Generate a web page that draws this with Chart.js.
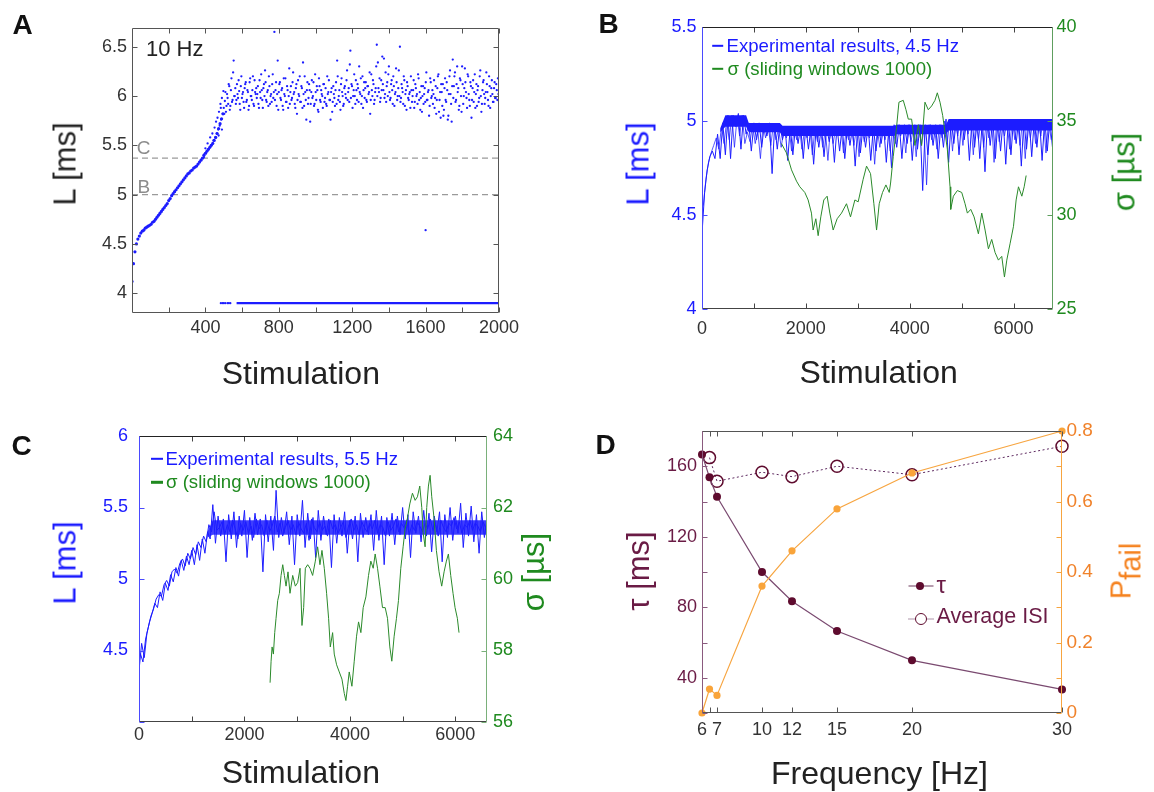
<!DOCTYPE html>
<html><head><meta charset="utf-8"><title>Latency figure</title>
<script src="https://cdn.jsdelivr.net/npm/chart.js@4.4.1/dist/chart.umd.min.js"></script>
<style>
html,body{margin:0;padding:0;background:#fff;}
#page{position:relative;width:1154px;height:792px;overflow:hidden;background:#fff;font-family:"Liberation Sans",Arial,Helvetica,sans-serif;}
#page canvas{position:absolute;left:0;top:0;}
.tx{position:absolute;white-space:nowrap;line-height:1;transform:translate(-50%,-50%);z-index:5;}
.rot{transform:translate(-50%,-50%) rotate(-90deg);}
.lt{position:absolute;white-space:nowrap;line-height:1;transform:translate(0,-50%);z-index:5;}
.mk{position:absolute;z-index:5;transform:translate(-50%,-50%);box-sizing:border-box;}
.letter{font-weight:bold;font-size:28px;color:#111;}
.ttl{font-size:31px;color:#222;}
.xt{font-size:32px;color:#222;}
.lg{font-size:18.6px;}
</style></head>
<body><div id="page">
<canvas id="chartA" width="1154" height="792"></canvas>
<canvas id="chartB" width="1154" height="792"></canvas>
<canvas id="chartC" width="1154" height="792"></canvas>
<canvas id="chartD" width="1154" height="792"></canvas>

<div class="tx letter" style="left:22.5px;top:25px">A</div>
<div class="tx letter" style="left:608.5px;top:23.5px">B</div>
<div class="tx letter" style="left:21.7px;top:445.8px">C</div>
<div class="tx letter" style="left:605.5px;top:444.5px">D</div>

<!-- Panel A texts -->
<div class="lt" style="left:146px;top:49.3px;font-size:22px;color:#222">10 Hz</div>
<div class="tx" style="left:143.7px;top:147.3px;font-size:19px;color:#8c8c8c">C</div>
<div class="tx" style="left:143.8px;top:186.3px;font-size:19px;color:#8c8c8c">B</div>
<div class="tx rot ttl" style="left:64.5px;top:164.2px">L [ms]</div>
<div class="tx xt" style="left:300.8px;top:372.8px">Stimulation</div>

<!-- Panel B texts -->
<div class="tx rot ttl" style="left:637.6px;top:164.2px;color:#1a1aff">L [ms]</div>
<div class="tx rot ttl" style="left:1124px;top:172px;color:#1f8a1f">σ [µs]</div>
<div class="tx xt" style="left:878.7px;top:372px">Stimulation</div>
<div class="mk" style="left:717.5px;top:45.7px;width:11.6px;height:2.4px;background:#1a1aff"></div>
<div class="lt lg" style="left:726.5px;top:45.7px;color:#1a1aff">Experimental results, 4.5 Hz</div>
<div class="mk" style="left:717.5px;top:69px;width:11.6px;height:2.4px;background:#1f8a1f"></div>
<div class="lt lg" style="left:727.5px;top:69px;color:#1f8a1f">σ (sliding windows 1000)</div>

<!-- Panel C texts -->
<div class="tx rot ttl" style="left:64.5px;top:563.3px;color:#1a1aff">L [ms]</div>
<div class="tx rot ttl" style="left:533px;top:571.7px;color:#1f8a1f">σ [µs]</div>
<div class="tx xt" style="left:300.8px;top:771.7px">Stimulation</div>
<div class="mk" style="left:156.5px;top:459px;width:12px;height:2.4px;background:#1a1aff"></div>
<div class="lt lg" style="left:165.5px;top:459px;color:#1a1aff">Experimental results, 5.5 Hz</div>
<div class="mk" style="left:156.5px;top:482.3px;width:12px;height:2.4px;background:#1f8a1f"></div>
<div class="lt lg" style="left:166px;top:482.3px;color:#1f8a1f">σ (sliding windows 1000)</div>

<!-- Panel D texts -->
<div class="tx rot ttl" style="left:637.7px;top:571.2px;color:#6a1b45">τ [ms]</div>
<div class="tx rot ttl" style="left:1121px;top:571px;color:#f5821f;font-size:29px">P<span style="position:relative;top:0.36em">fail</span></div>
<div class="tx xt" style="left:879.5px;top:773px">Frequency [Hz]</div>
<div class="mk" style="left:920.8px;top:586.3px;width:25px;height:0;border-top:1.2px solid #6e3a5e"></div>
<div class="mk" style="left:920px;top:586.3px;width:8px;height:8px;border-radius:50%;background:#5e0b2e"></div>
<div class="lt" style="left:936.5px;top:584.5px;font-size:24px;color:#6a1b45">τ</div>
<div class="mk" style="left:920.8px;top:618.7px;width:25px;height:0;border-top:1.2px dotted #5e2a55"></div>
<div class="mk" style="left:920.7px;top:618.7px;width:12px;height:12px;border-radius:50%;border:1.5px solid #5e0b2e;background:#fff"></div>
<div class="lt" style="left:936.5px;top:617px;font-size:21.5px;color:#6a1b45">Average ISI</div>
</div>

<script>
// ================= DATA =================
// Panel A (10 Hz): latency per stimulation
const aXRange = [0, 2000];
const aYRange = [3.8, 6.69];
const aXTicks = [200, 400, 600, 800, 1000, 1200, 1400, 1600, 1800, 2000];
const aXLabels = [400, 800, 1200, 1600, 2000];
const aYTicks = [4, 4.5, 5, 5.5, 6, 6.5];
const aRampStart = 0, aRampStep = 8;
const aRampL = [4.12,4.30,4.42,4.50,4.55,4.58,4.61,4.63,4.64,4.66,
  4.67,4.68,4.69,4.70,4.72,4.73,4.75,4.77,4.79,4.81,
  4.83,4.85,4.87,4.89,4.91,4.94,4.96,4.99,5.01,5.03,
  5.05,5.07,5.09,5.11,5.13,5.15,5.17,5.19,5.21,5.22,
  5.24,5.25,5.27,5.28,5.29,5.31,5.33,5.35,5.37,5.40,
  5.42,5.44,5.46,5.48,5.50,5.52,5.55,5.58,5.62,5.67,
  5.72,5.77,5.82];
const aCloudStart = 500, aCloudStep = 6;
const aCloudL = [
  5.88,5.95,5.84,6.02,5.92,6.10,5.90,6.18,5.96,6.36,
  6.00,5.92,6.12,5.98,6.05,5.86,6.20,6.02,5.94,6.08,
  6.14,5.96,6.04,5.90,6.18,6.00,6.06,5.92,6.16,6.02,
  5.98,6.10,5.88,6.04,6.22,5.96,6.08,6.00,6.14,5.94,
  6.06,6.20,5.92,6.02,6.12,5.98,6.65,6.06,5.90,6.36,
  6.04,6.14,5.96,6.08,5.86,6.02,6.18,5.94,6.06,6.00,
  5.92,6.10,5.98,6.24,6.04,5.88,6.12,5.96,6.02,6.20,
  5.94,6.08,6.34,5.90,6.04,5.76,6.14,5.98,6.06,5.92,
  6.16,6.00,5.90,6.22,5.96,6.06,5.84,6.10,5.94,6.02,
  5.88,6.12,5.98,5.92,6.20,6.04,5.96,5.76,6.08,5.94,
  6.02,5.90,6.14,6.36,5.96,6.06,5.86,6.18,6.00,5.92,
  6.10,5.98,6.26,6.04,5.94,6.46,6.12,5.88,6.06,6.00,
  6.16,5.96,6.08,6.30,6.02,5.92,6.20,6.06,5.98,6.14,
  5.94,6.10,6.04,5.82,6.22,6.00,6.12,5.96,6.08,6.52,
  6.34,6.04,5.94,6.16,6.40,6.06,5.98,6.24,6.10,6.00,
  6.30,5.96,6.12,6.06,6.20,5.90,6.04,6.14,6.00,6.26,
  6.50,5.98,6.08,5.92,6.16,6.02,5.86,6.10,5.96,6.04,
  6.20,5.94,6.06,5.88,6.12,6.00,5.92,6.18,6.04,5.98,
  5.84,6.10,6.02,5.94,6.24,5.96,6.06,5.90,6.14,6.00,
  5.92,6.16,5.98,5.82,6.08,6.22,5.96,5.78,6.04,6.12,
  5.86,6.18,5.94,6.06,5.80,6.20,6.02,5.74,6.37,6.10,
  6.24,5.96,6.30,6.08,5.90,6.16,5.84,6.12,6.00,6.28,
  6.04,5.88,6.20,5.96,6.14,5.78,6.08,5.94,6.22,6.02,
  5.90,6.10,5.98,6.26,5.84,6.06,6.16,5.92,6.04,6.12,
  5.96,6.20,5.88,6.08,6.02,5.94,6.14,5.98,6.06,6.18];
const aCloud2Start = 503, aCloud2Step = 6;
const aCloud2L = [
  5.82,6.04,5.90,5.98,6.12,5.86,6.06,5.94,6.24,6.00,
  6.08,5.96,6.02,6.16,5.92,6.10,5.98,6.04,5.88,6.12,
  5.94,6.06,5.86,6.14,6.00,5.96,6.20,5.90,6.04,6.08,
  6.02,5.92,6.16,5.98,6.06,5.88,6.12,6.26,5.96,6.04,
  5.90,6.10,6.00,5.94,6.22,6.04,5.96,6.14,6.02,5.86,
  6.12,5.98,6.06,5.90,6.18,6.00,5.94,6.10,5.88,6.28,
  6.04,5.96,6.14,6.02,5.92,6.08,5.82,6.16,6.00,5.94,
  6.10,5.88,6.02,6.20,5.96,6.06,5.92,6.12,5.74,6.04,
  5.98,6.14,5.92,6.04,6.10,5.86,6.18,5.96,6.06,6.00,
  6.12,5.94,6.08,5.90,6.02,6.16,5.96,6.04,5.84,6.10,
  5.98,6.06,5.92,6.20,6.00,5.94,6.12,6.04,5.90,6.08,
  6.02,6.16,5.96,6.08,6.32,5.98,6.10,6.00,6.22,5.92,
  6.06,6.12,5.94,6.04,6.18,6.00,5.88,6.14,6.08,5.96,
  6.10,6.02,6.24,5.96,6.06,6.16,5.92,6.04,6.30,6.00,
  6.08,6.18,5.98,6.06,6.12,6.38,6.02,5.94,6.14,6.22,
  6.04,5.98,6.16,5.92,6.10,6.02,6.28,5.96,6.08,6.00,
  5.94,6.12,6.04,6.20,5.90,6.06,6.14,5.98,6.02,5.88,
  6.06,6.00,6.16,5.94,6.08,6.02,6.22,5.96,5.86,6.10,
  6.00,5.92,6.08,6.14,5.96,6.04,5.80,6.18,5.98,6.06,
  6.02,5.88,6.10,5.96,6.20,5.84,6.04,6.12,5.90,5.80,
  6.08,5.96,6.14,5.76,6.02,6.26,5.92,6.10,5.98,6.20,
  5.94,6.12,6.04,5.86,6.18,6.00,6.30,5.92,6.08,6.14,
  5.98,6.22,6.02,5.90,6.10,5.96,6.16,6.04,5.88,6.12,
  6.06,5.94,6.20,6.00,5.92,6.14,6.02,5.98,6.24,6.04,
  5.90,6.10,6.00,6.16,5.94,6.08,5.98,6.12,5.96,6.02];
const aExtraStim = [392,400,404,412,418,426,432,438,444,450,454,458,462,466,470,474,478,482,486,490,494,498,490,472,484,1600];
const aExtraL = [5.38,5.47,5.42,5.52,5.46,5.58,5.50,5.62,5.55,5.68,5.58,5.74,5.62,5.78,5.66,5.84,5.70,5.92,5.76,5.98,5.82,6.05,5.66,5.60,5.88,4.64];
const aFailStim = [484, 492, 500, 508, 520, 528, 536];
const aFailRun = [570, 2000];
const aFailL = 3.9;
const aRefNames = ['C', 'B'];
const aRefL = [5.37, 5.0];

// Panel B (4.5 Hz)
const bXRange = [0, 6760];
const bLRange = [4, 5.5];
const bSRange = [25, 40];
const bXTicks = [0, 1000, 2000, 3000, 4000, 5000, 6000];
const bXLabels = [0, 2000, 4000, 6000];
const bLTicks = [4, 4.5, 5, 5.5];
const bSTicks = [25, 30, 35, 40];
const bStep = 50;
const bLatency = [
  4.40,4.62,4.74,4.81,4.84,4.80,4.93,4.80,4.99,4.82,
  5.03,4.80,5.03,4.97,5.04,4.85,5.03,4.93,4.99,4.84,
  4.99,4.90,4.99,4.86,4.98,4.92,4.99,4.72,4.98,4.85,
  4.98,4.90,4.97,4.79,4.97,4.82,4.97,4.88,4.97,4.80,
  4.97,4.85,4.97,4.77,4.97,4.86,4.97,4.81,4.97,4.89,
  4.97,4.78,4.97,4.84,4.97,4.80,4.97,4.87,4.97,4.76,
  4.97,4.83,4.97,4.86,4.97,4.79,4.97,4.84,4.97,4.88,
  4.97,4.78,4.97,4.75,4.98,4.86,4.98,4.80,4.98,4.88,
  4.98,4.79,4.98,4.85,4.98,4.63,4.98,4.82,4.98,4.87,
  4.98,4.80,4.98,4.86,5.01,4.78,5.01,4.88,5.01,4.82,
  5.01,4.90,5.01,4.79,5.01,4.86,5.01,4.80,5.01,4.73,
  5.01,4.87,5.01,4.80,5.01,4.84,5.01,4.77,5.01,4.82,
  5.01,4.88,5.01,4.76,5.01,4.85,5.01,4.81,5.01,4.86,
  5.01,4.79,5.01,4.84,5.01,4.86];
const bStart2 = 25;
const bLatency2 = [
  4.55,4.69,4.78,4.83,4.87,4.91,4.85,4.97,4.88,5.00,
  4.90,5.03,4.86,5.02,4.92,5.03,4.88,4.94,4.89,4.98,
  4.88,4.95,4.80,4.98,4.91,4.97,4.87,4.98,4.90,4.96,
  4.86,4.95,4.91,4.97,4.84,4.96,4.90,4.97,4.85,4.95,
  4.91,4.97,4.82,4.96,4.89,4.97,4.86,4.95,4.79,4.97,
  4.88,4.96,4.92,4.97,4.83,4.95,4.90,4.97,4.87,4.96,
  4.81,4.97,4.89,4.95,4.91,4.97,4.77,4.96,4.86,4.97,
  4.90,4.96,4.84,4.97,4.88,4.98,4.92,4.97,4.83,4.98,
  4.89,4.97,4.81,4.98,4.87,4.96,4.66,4.98,4.90,4.97,
  4.85,4.98,4.91,5.00,4.89,5.01,4.84,5.00,4.92,5.01,
  4.87,5.00,4.93,5.01,4.82,5.00,4.90,5.01,4.86,5.00,
  4.91,5.01,4.78,5.00,4.89,5.01,4.92,5.00,4.85,5.01,
  4.90,5.00,4.87,5.01,4.80,5.00,4.91,5.01,4.88,5.00,
  4.92,5.01,4.83,5.00,4.90];
const bBandStim = [350, 450, 850, 900, 1500, 1550, 3700, 3750, 4700, 4750, 6760];
const bBandHi = [4.96, 5.03, 5.03, 4.99, 4.99, 4.975, 4.975, 4.98, 4.98, 5.01, 5.01];
const bBandLo = [4.94, 4.97, 4.97, 4.94, 4.94, 4.92, 4.92, 4.93, 4.93, 4.95, 4.95];
const bSigmaStim = [1530,1627,1724,1820,1884,1980,2044,2108,2140,2192,2237,2288,2346,2410,2462,2526,2603,2687,2783,2860,2944,3008,3104,3169,3246,3310,3362,3413,3477,3542,3606,3632,3683,3748,3793,3876,3928,3973,4037,4101,4166,4230,4294,4358,4423,4487,4532,4584,4635,4680,4725,4777,4790,4841,4918,5002,5066,5111,5176,5240,5323,5388,5452,5516,5580,5645,5709,5773,5825,5870,5935,5999,6050,6095,6160,6205,6243];
const bSigma = [33.8,33.3,32.4,31.8,31.5,31.2,30.8,30.1,29.2,29.8,28.9,29.9,30.8,31.0,30.1,29.2,29.8,30.1,30.6,29.9,30.8,30.7,31.9,32.6,32.2,30.6,29.2,30.6,31.2,31.6,31.2,31.7,33.1,34.7,36.0,36.1,35.6,35.1,35.1,33.7,34.8,33.7,36.0,35.6,35.8,36.1,36.5,36.0,35.3,34.4,33.5,31.5,30.3,31.0,31.3,31.2,30.6,30.1,30.3,29.9,29.0,30.1,29.2,28.2,28.7,28.0,27.6,27.8,26.7,27.6,28.5,29.4,30.8,31.5,31.0,31.5,32.1];

// Panel C (5.5 Hz)
const cXRange = [0, 6600];
const cLRange = [4, 6];
const cSRange = [56, 64];
const cXTicks = [0, 1000, 2000, 3000, 4000, 5000, 6000];
const cXLabels = [0, 2000, 4000, 6000];
const cLTicks = [4, 4.5, 5, 5.5, 6];
const cLLabels = [4.5, 5, 5.5, 6];
const cSTicks = [56, 58, 60, 62, 64];
const cStep = 50;
const cLatency = [
  4.36,4.55,4.45,4.62,4.70,4.76,4.83,4.80,4.91,4.85,
  4.97,4.92,5.03,4.98,5.08,5.02,5.13,5.06,5.16,5.10,
  5.20,5.10,5.24,5.13,5.28,5.18,5.33,5.28,5.52,5.25,
  5.44,5.30,5.42,5.12,5.45,5.28,5.47,5.22,5.44,5.30,
  5.48,5.15,5.43,5.27,5.46,5.31,5.42,5.05,5.45,5.26,
  5.44,5.20,5.62,5.29,5.43,5.32,5.47,5.24,5.44,5.10,
  5.45,5.30,5.55,5.22,5.46,5.28,5.43,5.15,5.48,5.27,
  5.44,5.31,5.42,5.08,5.45,5.25,5.43,5.30,5.47,5.18,
  5.41,5.28,5.44,5.12,5.46,5.29,5.43,5.31,5.45,5.20,
  5.48,5.27,5.44,5.10,5.43,5.30,5.46,5.24,5.44,5.31,
  5.50,5.28,5.45,5.15,5.47,5.32,5.44,5.26,5.48,5.30,
  5.46,5.19,5.44,5.33,5.47,5.12,5.45,5.29,5.50,5.27,
  5.44,5.32,5.53,5.22,5.46,5.30,5.51,5.26,5.45,5.18,
  5.47,5.29,5.42];
const cStart2 = 25;
const cLatency2 = [
  4.48,4.42,4.58,4.66,4.74,4.79,4.86,4.89,4.88,4.96,
  4.99,4.95,5.05,5.07,5.04,5.11,5.14,5.09,5.18,5.14,
  5.22,5.17,5.26,5.22,5.30,5.26,
  5.38,5.33,5.47,5.34,
  5.36,5.40,5.31,5.38,5.33,5.41,5.35,5.28,5.39,5.34,
  5.40,5.32,5.37,5.29,5.42,5.35,5.38,5.30,5.41,5.33,
  5.37,5.44,5.33,5.39,5.30,5.36,5.41,5.34,5.38,5.31,
  5.40,5.35,5.32,5.39,5.27,5.42,5.36,5.33,5.40,5.34,
  5.37,5.30,5.41,5.35,5.38,5.32,5.36,5.40,5.29,5.37,
  5.42,5.34,5.38,5.31,5.40,5.36,5.33,5.39,5.35,5.41,
  5.32,5.38,5.36,5.30,5.40,5.34,5.37,5.42,5.33,5.39,
  5.36,5.41,5.31,5.38,5.34,5.40,5.37,5.33,5.39,5.35,
  5.42,5.34,5.38,5.30,5.41,5.36,5.33,5.39,5.37,5.43,
  5.35,5.40,5.32,5.38,5.36,5.41,5.34,5.39,5.37,5.33,
  5.40,5.36];
const cBandStim = [1300, 1400, 6600];
const cBandHi = [5.33, 5.41, 5.41];
const cBandLo = [5.29, 5.31, 5.31];
const cSigmaStim = [2486,2505,2524,2549,2574,2599,2631,2662,2694,2726,2757,2789,2826,2864,2915,2965,3009,3054,3091,3123,3155,3199,3243,3293,3344,3388,3432,3470,3514,3558,3596,3628,3672,3703,3748,3798,3849,3893,3924,3956,3987,4038,4082,4126,4164,4208,4252,4303,4353,4397,4442,4479,4524,4568,4618,4669,4713,4757,4795,4839,4883,4921,4965,5009,5047,5091,5136,5186,5237,5281,5325,5363,5388,5426,5457,5489,5521,5552,5596,5640,5691,5741,5786,5830,5868,5912,5956,5994,6038,6069];
const cSigma = [57.1,57.7,58.1,57.9,58.5,58.9,59.4,59.6,60.1,60.4,60.1,59.8,60.2,59.6,60.1,59.8,59.9,60.3,58.7,59.2,60.3,60.4,60.3,60.1,60.5,60.9,60.4,60.8,60.3,59.6,58.9,58.1,58.5,57.9,57.6,57.4,57.2,56.8,56.6,57.0,57.4,57.0,57.7,58.4,58.8,58.5,59.2,59.5,60.1,60.5,60.3,60.7,60.3,59.8,59.2,59.2,58.9,58.1,57.7,58.4,58.9,59.4,60.3,60.9,61.4,61.7,62.1,62.4,62.2,62.3,62.6,62.0,61.3,60.9,62.0,62.6,62.9,62.3,61.7,60.8,60.2,59.8,60.2,60.5,60.7,60.1,59.6,59.2,58.9,58.5];

// Panel D
const dXRange = [6, 30];
const dTauRange = [20, 180];
const dPRange = [0, 0.8];
const dXTicks = [6, 6.5, 7, 10, 12, 15, 20, 30];
const dXLabels = [6, 7, 10, 12, 15, 20, 30];
const dTauTicks = [20, 40, 60, 80, 100, 120, 140, 160, 180];
const dTauLabels = [40, 80, 120, 160];
const dPTicks = [0, 0.1, 0.2, 0.3, 0.4, 0.5, 0.6, 0.7, 0.8];
const dPLabels = [0, 0.2, 0.4, 0.6, 0.8];
const dFreq = [6, 6.5, 7, 10, 12, 15, 20, 30];
const dTau = [166.6, 153.7, 142.7, 100, 83.4, 66.5, 49.9, 33.4];
const dIsiFreq = [6.5, 7, 10, 12, 15, 20, 30];
const dIsi = [164.9, 151.5, 156.6, 154.1, 160.0, 155.2, 171.3];
const dPfail = [0, 0.068, 0.050, 0.360, 0.460, 0.579, 0.681, 0.80];

// ================= HELPERS =================
const FONT = '"Liberation Sans", Arial, sans-serif';
const BLUE = 'rgb(28,28,255)';
const GREEN = '#2b8a2b';
function pts(start, step, arr) { return arr.map((v, i) => ({ x: start + i * step, y: v })); }
function zip(xs, ys) { return xs.map((x, i) => ({ x: x, y: ys[i] })); }
function labelIf(list) { return function (v) { return list.indexOf(v) >= 0 ? String(v) : ''; }; }
function axis(o) {
  return {
    type: 'linear', position: o.pos, min: o.range[0], max: o.range[1],
    afterFit: function (s) { if (s.isHorizontal()) s.height = o.size; else s.width = o.size; },
    afterBuildTicks: function (s) { s.ticks = o.ticks.map(v => ({ value: v })); },
    grid: { display: false, drawTicks: false },
    border: { display: false },
    ticks: { padding: o.pad, color: o.color, font: { family: FONT, size: o.fs || 18 },
      autoSkip: false, maxRotation: 0, minRotation: 0, callback: labelIf(o.labels || o.ticks) }
  };
}
const framePlugin = {
  id: 'frame',
  afterDatasetsDraw(chart, args, o) {
    if (!o || !o.edges) return;
    const a = chart.chartArea, ctx = chart.ctx;
    const L = Math.round(a.left) + 0.5, R = Math.round(a.right) - 0.5, T = Math.round(a.top) + 0.5, B = Math.round(a.bottom) - 0.5;
    ctx.save();
    ctx.lineWidth = 1;
    (o.marks || []).forEach(m => {
      const sc = chart.scales[m.id];
      ctx.strokeStyle = m.color;
      sc.ticks.forEach(t => {
        const p = Math.round(sc.getPixelForValue(t.value)) + 0.5;
        m.sides.forEach(side => {
          ctx.beginPath();
          if (side === 'bottom') { ctx.moveTo(p, B); ctx.lineTo(p, B - m.len); }
          else if (side === 'top') { ctx.moveTo(p, T); ctx.lineTo(p, T + m.len); }
          else if (side === 'left') { ctx.moveTo(L, p); ctx.lineTo(L + m.len, p); }
          else { ctx.moveTo(R, p); ctx.lineTo(R - m.len, p); }
          ctx.stroke();
        });
      });
    });
    const e = o.edges;
    const seg = (c, x1, y1, x2, y2) => { ctx.strokeStyle = c; ctx.beginPath(); ctx.moveTo(x1, y1); ctx.lineTo(x2, y2); ctx.stroke(); };
    seg(e.top, L, T, R, T);
    seg(e.bottom, L, B, R, B);
    seg(e.left, L, T, L, B);
    seg(e.right, R, T, R, B);
    ctx.restore();
  }
};
Chart.register(framePlugin);
function base(pad, frame) {
  return {
    responsive: false, maintainAspectRatio: false, animation: false, events: [],
    layout: { padding: pad },
    plugins: { legend: { display: false }, tooltip: { enabled: false }, frame: frame }
  };
}
const dot = (data, r) => ({ type: 'scatter', data: data, pointRadius: r, pointHoverRadius: r,
  pointBackgroundColor: BLUE, pointBorderWidth: 0, showLine: false });

// ================= PANEL A =================
const optA = base({ left: 72, right: 655, top: 28, bottom: 439 }, {
  edges: { top: '#555', bottom: '#555', left: '#555', right: '#555' },
  marks: [{ id: 'x', sides: ['bottom', 'top'], color: '#555', len: 5 },
          { id: 'y', sides: ['left', 'right'], color: '#555', len: 5 }]
});
optA.scales = {
  x: axis({ pos: 'bottom', range: aXRange, size: 40, ticks: aXTicks, labels: aXLabels, pad: 4, color: '#333' }),
  y: axis({ pos: 'left', range: aYRange, size: 60, ticks: aYTicks, pad: 5, color: '#333' })
};
new Chart(document.getElementById('chartA'), {
  type: 'scatter',
  data: { datasets: [
    dot(pts(aRampStart, aRampStep, aRampL), 1.6),
    dot(pts(aCloudStart, aCloudStep, aCloudL), 1.15),
    dot(pts(aCloud2Start, aCloud2Step, aCloud2L), 1.15),
    dot(zip(aExtraStim, aExtraL), 1.15),
    dot(aFailStim.map(x => ({ x: x, y: aFailL })), 1.1),
    { type: 'line', data: aFailRun.map(x => ({ x: x, y: aFailL })), borderColor: BLUE, borderWidth: 2.2, pointRadius: 0 }
  ].concat(aRefL.map((v, i) => ({ type: 'line', label: aRefNames[i], data: aXRange.map(x => ({ x: x, y: v })),
      borderColor: '#9a9a9a', borderWidth: 1.1, borderDash: [6, 4], pointRadius: 0 }))) },
  options: optA
});

// ================= PANEL B =================
const optB = base({ left: 642, right: 41, top: 27, bottom: 443 }, {
  edges: { top: '#222', bottom: '#444', left: '#4a4aff', right: '#5e9e5e' },
  marks: [{ id: 'x', sides: ['bottom', 'top'], color: '#444', len: 5 },
          { id: 'yL', sides: ['left'], color: '#4a4aff', len: 5 },
          { id: 'yR', sides: ['right'], color: '#5e9e5e', len: 5 }]
});
optB.scales = {
  x: axis({ pos: 'bottom', range: bXRange, size: 40, ticks: bXTicks, labels: bXLabels, pad: 9, color: '#333' }),
  yL: axis({ pos: 'left', range: bLRange, size: 60, ticks: bLTicks, pad: 5.5, color: '#1a1aff' }),
  yR: axis({ pos: 'right', range: bSRange, size: 60, ticks: bSTicks, pad: 3.5, color: '#1f8a1f' })
};
new Chart(document.getElementById('chartB'), {
  type: 'scatter',
  data: { datasets: [
    { type: 'line', yAxisID: 'yR', data: zip(bSigmaStim, bSigma), borderColor: GREEN, borderWidth: 1, pointRadius: 0 },
    { type: 'line', yAxisID: 'yL', data: pts(0, bStep, bLatency), borderColor: BLUE, borderWidth: 1, pointRadius: 0, borderJoinStyle: 'bevel' },
    { type: 'line', yAxisID: 'yL', data: pts(bStart2, bStep, bLatency2), borderColor: 'rgba(28,28,255,0.75)', borderWidth: 1, pointRadius: 0, borderJoinStyle: 'bevel' },
    { type: 'line', yAxisID: 'yL', data: zip(bBandStim, bBandHi), borderWidth: 0, borderColor: 'rgba(0,0,0,0)', pointRadius: 0, fill: false },
    { type: 'line', yAxisID: 'yL', data: zip(bBandStim, bBandLo), borderWidth: 0, borderColor: 'rgba(0,0,0,0)', pointRadius: 0, fill: '-1', backgroundColor: BLUE }
  ] },
  options: optB
});

// ================= PANEL C =================
const optC = base({ left: 79, right: 607, top: 436, bottom: 30 }, {
  edges: { top: '#222', bottom: '#444', left: '#4a4aff', right: '#7ab07a' },
  marks: [{ id: 'x', sides: ['bottom', 'top'], color: '#444', len: 5 },
          { id: 'yL', sides: ['left'], color: '#4a4aff', len: 5 },
          { id: 'yR', sides: ['right'], color: '#7ab07a', len: 5 }]
});
optC.scales = {
  x: axis({ pos: 'bottom', range: cXRange, size: 40, ticks: cXTicks, labels: cXLabels, pad: 2.5, color: '#333' }),
  yL: axis({ pos: 'left', range: cLRange, size: 60, ticks: cLTicks, labels: cLLabels, pad: 11, color: '#1a1aff' }),
  yR: axis({ pos: 'right', range: cSRange, size: 60, ticks: cSTicks, pad: 6, color: '#1f8a1f' })
};
new Chart(document.getElementById('chartC'), {
  type: 'scatter',
  data: { datasets: [
    { type: 'line', yAxisID: 'yR', data: zip(cSigmaStim, cSigma), borderColor: GREEN, borderWidth: 1, pointRadius: 0 },
    { type: 'line', yAxisID: 'yL', data: pts(0, cStep, cLatency), borderColor: BLUE, borderWidth: 1, pointRadius: 0, borderJoinStyle: 'bevel' },
    { type: 'line', yAxisID: 'yL', data: pts(cStart2, cStep, cLatency2), borderColor: BLUE, borderWidth: 1, pointRadius: 0, borderJoinStyle: 'bevel' },
    { type: 'line', yAxisID: 'yL', data: zip(cBandStim, cBandHi), borderWidth: 0, borderColor: 'rgba(0,0,0,0)', pointRadius: 0, fill: false },
    { type: 'line', yAxisID: 'yL', data: zip(cBandStim, cBandLo), borderWidth: 0, borderColor: 'rgba(0,0,0,0)', pointRadius: 0, fill: '-1', backgroundColor: 'rgba(28,28,255,0.85)' }
  ] },
  options: optC
});

// ================= PANEL D =================
const optD = base({ left: 642, right: 32, top: 431, bottom: 39 }, {
  edges: { top: '#555', bottom: '#555', left: '#8a5a7e', right: '#f7a540' },
  marks: [{ id: 'x', sides: ['bottom', 'top'], color: '#555', len: 5 },
          { id: 'yL', sides: ['left'], color: '#8a5a7e', len: 5 },
          { id: 'yR', sides: ['right'], color: '#f7a540', len: 5 }]
});
optD.scales = {
  x: axis({ pos: 'bottom', range: dXRange, size: 40, ticks: dXTicks, labels: dXLabels, pad: 6.5, color: '#333' }),
  yL: axis({ pos: 'left', range: dTauRange, size: 60, ticks: dTauTicks, labels: dTauLabels, pad: 5, color: '#6a1b45' }),
  yR: axis({ pos: 'right', range: dPRange, size: 60, ticks: dPTicks, labels: dPLabels, pad: 4.5, color: '#f0822a', fs: 19 })
};
new Chart(document.getElementById('chartD'), {
  type: 'scatter',
  data: { datasets: [
    { type: 'line', yAxisID: 'yR', data: zip(dFreq, dPfail), borderColor: '#f7a540', borderWidth: 1.2,
      pointRadius: 3.6, pointBackgroundColor: '#f9a43a', pointBorderWidth: 0, clip: false },
    { type: 'line', yAxisID: 'yL', data: zip(dFreq, dTau), borderColor: '#7a4a70', borderWidth: 1.2,
      pointRadius: 4, pointBackgroundColor: '#5e0b2e', pointBorderWidth: 0, clip: false },
    { type: 'line', yAxisID: 'yL', data: zip(dIsiFreq, dIsi), borderColor: '#5e2a60', borderWidth: 1, borderDash: [2, 2.5],
      pointRadius: 6, pointBackgroundColor: 'rgba(255,255,255,0)', pointBorderColor: '#5e0b2e', pointBorderWidth: 1.5, clip: false }
  ] },
  options: optD
});
</script>
</body></html>
